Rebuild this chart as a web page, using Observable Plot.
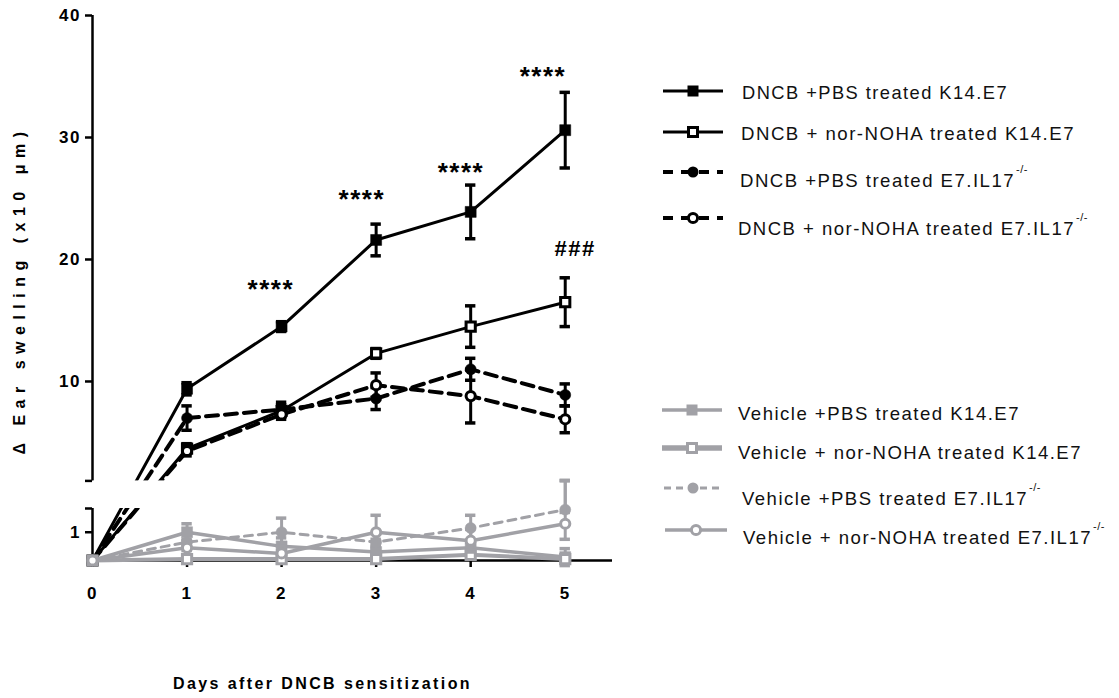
<!DOCTYPE html>
<html>
<head>
<meta charset="utf-8">
<script src="https://cdn.jsdelivr.net/npm/d3@7"></script>
<script src="https://cdn.jsdelivr.net/npm/@observablehq/plot@0.6"></script>
<style>
  body { margin: 0; background: #fff; }
  #wrap { position: relative; width: 1119px; height: 698px; overflow: hidden; background: #fff; }
  #wrap > svg { position: absolute; left: 0; top: 0; }
  #overlay { pointer-events: none; }
</style>
</head>
<body>
<div id="wrap"></div>
<script>
// ---------------- data ----------------
const days = [0, 1, 2, 3, 4, 5];

const seriesMain = [
  "DNCB +PBS treated K14.E7",
  "DNCB + nor-NOHA treated K14.E7",
  "DNCB +PBS treated E7.IL17",
  "DNCB + nor-NOHA treated E7.IL17",
  "Vehicle +PBS treated K14.E7",
  "Vehicle + nor-NOHA treated K14.E7",
  "Vehicle +PBS treated E7.IL17",
  "Vehicle + nor-NOHA treated E7.IL17"
];
const seriesSup = ["", "", "-/-", "-/-", "", "", "-/-", "-/-"];

// mean ear swelling (x10 µm)
const dncbPbsK14      = [0, 9.4, 14.5, 21.6, 23.9, 30.6];
const dncbNohaK14     = [0, 4.5, 7.6, 12.3, 14.5, 16.5];
const dncbPbsIL17     = [0, 7.0, 7.7, 8.6, 11.0, 8.9];
const dncbNohaIL17    = [0, 4.3, 7.3, 9.7, 8.8, 6.9];
const vehPbsK14       = [0, 1.0, 0.5, 0.3, 0.45, 0.12];
const vehNohaK14      = [0, 0.05, 0.05, 0.05, 0.2, 0.05];
const vehPbsIL17      = [0, 0.65, 1.0, 0.65, 1.15, 1.8];
const vehNohaIL17     = [0, 0.45, 0.25, 1.0, 0.7, 1.3];

// SEM
const dncbPbsK14Err   = [0, 0.5, 0.4, 1.3, 2.2, 3.1];
const dncbNohaK14Err  = [0, 0.4, 0.5, 0.4, 1.7, 2.0];
const dncbPbsIL17Err  = [0, 1.0, 0.6, 0.9, 0.9, 0.9];
const dncbNohaIL17Err = [0, 0.4, 0.4, 1.0, 2.2, 1.1];
const vehPbsK14Err    = [0, 0.3, 0.3, 0.2, 0.2, 0.3];
const vehNohaK14Err   = [0, 0.1, 0.1, 0.1, 0.1, 0.1];
const vehPbsIL17Err   = [0, 0.1, 0.5, 0.1, 0.45, 0.1];
const vehNohaIL17Err  = [0, 0.1, 0.1, 0.6, 0.4, 0.55];

// significance annotations
const starLabels = ["****", "****", "****", "****"];
const starX = [1.873, 2.836, 3.884, 4.751];
const starY = [17.5, 24.9, 27.1, 35.0];
const hashLabels = ["###"];
const hashX = [5.10];
const hashY = [20.9];

// axis
const xTicks = [0, 1, 2, 3, 4, 5];
const yTicks = [1, 1.84, 1.85, 10, 20, 30, 40];
const yTickLabels = [1, 10, 20, 30, 40];
const yBreak = [1.84, 1.85];          // broken y axis
const yDomain = [0, 1.84, 1.85, 40];
const xMax = 5.5;

// ---------------- build table ----------------
const means = [dncbPbsK14, dncbNohaK14, dncbPbsIL17, dncbNohaIL17, vehPbsK14, vehNohaK14, vehPbsIL17, vehNohaIL17];
const errs  = [dncbPbsK14Err, dncbNohaK14Err, dncbPbsIL17Err, dncbNohaIL17Err, vehPbsK14Err, vehNohaK14Err, vehPbsIL17Err, vehNohaIL17Err];
const rows = [];
means.forEach((m, si) => days.forEach((d, di) => rows.push({series: si, day: d, value: m[di], err: errs[si][di]})));

// ---------------- styles ----------------
const BLACK = "#000000";
const GRAY = "#a1a1a6";
const styles = [
  {color: BLACK, width: 3,   dash: null,   symbol: "square", open: false, r: 6.2},
  {color: BLACK, width: 3,   dash: null,   symbol: "square", open: true,  r: 5.2},
  {color: BLACK, width: 4,   dash: "12,7", symbol: "circle", open: false, r: 5.5},
  {color: BLACK, width: 4,   dash: "12,7", symbol: "circle", open: true,  r: 4.6},
  {color: GRAY,  width: 3.5, dash: null,   symbol: "square", open: false, r: 6.2},
  {color: GRAY,  width: 4,   dash: null,   symbol: "square", open: true,  r: 5.2},
  {color: GRAY,  width: 3,   dash: "8,6",  symbol: "circle", open: false, r: 5.5},
  {color: GRAY,  width: 3.5, dash: null,   symbol: "circle", open: true,  r: 4.6}
];
const capHalf = 0.055;

function seriesMarks(si) {
  const st = styles[si];
  const data = rows.filter(r => r.series === si);
  const eb = data.filter(r => r.err > 0);
  const lineOpts = {x: "day", y: "value", stroke: st.color, strokeWidth: st.width};
  if (st.dash) lineOpts.strokeDasharray = st.dash;
  return [
    Plot.line(data, lineOpts),
    Plot.ruleX(eb, {x: "day", y1: r => r.value - r.err, y2: r => r.value + r.err, stroke: st.color, strokeWidth: 3}),
    Plot.ruleY(eb, {y: r => r.value + r.err, x1: r => r.day - capHalf, x2: r => r.day + capHalf, stroke: st.color, strokeWidth: 3.5}),
    Plot.ruleY(eb, {y: r => r.value - r.err, x1: r => r.day - capHalf, x2: r => r.day + capHalf, stroke: st.color, strokeWidth: 3.5}),
    Plot.dot(data, {x: "day", y: "value", symbol: st.symbol, r: st.r,
      fill: st.open ? "white" : st.color, stroke: st.color, strokeWidth: st.open ? 3 : 0.5})
  ];
}

const gapRows = [{y1: yBreak[0], y2: yBreak[1]}];
const axisSegments = [{y1: 0, y2: yBreak[0]}, {y1: yBreak[1], y2: yDomain[3]}];
const FONT = '"Liberation Sans", Arial, sans-serif';

const chart = Plot.plot({
  width: 640,
  height: 698,
  marginLeft: 92,
  marginRight: 28,
  marginTop: 15,
  marginBottom: 138,
  x: {domain: [0, xMax]},
  y: {type: "linear", domain: yDomain, range: [560, 508, 480.4, 15]},
  style: {fontFamily: FONT, fontSize: "17px", fontWeight: "bold",
          color: "black", background: "white", overflow: "visible", letterSpacing: "1.5px"},
  marks: [
    Plot.ruleY([0], {stroke: "black", strokeWidth: 2.5}),
    Plot.ruleX(axisSegments, {x: 0, y1: "y1", y2: "y2", stroke: "black", strokeWidth: 2.5}),
    Plot.axisX({ticks: xTicks, tickSize: 7, tickPadding: 19, strokeWidth: 2.5, label: null, tickFormat: d => String(d)}),
    Plot.axisY({ticks: yTicks, tickSize: 7, tickPadding: 4.5, strokeWidth: 2.5, label: null,
      tickFormat: d => yTickLabels.includes(d) ? String(d) : ""}),
    ...seriesMarks(0), ...seriesMarks(1), ...seriesMarks(2), ...seriesMarks(3),
    Plot.rect(gapRows, {x1: 0, x2: xMax, y1: "y1", y2: "y2", fill: "white", insetLeft: 1.5}),
    ...seriesMarks(4), ...seriesMarks(5), ...seriesMarks(6), ...seriesMarks(7),
    Plot.text(starLabels.map((t, i) => ({t, x: starX[i], y: starY[i]})), {
      x: "x", y: "y", text: "t", fontSize: 26, fontWeight: "bold", dx: 1.2,
      fontFamily: FONT, fill: "black", ariaLabel: "stars"}),
    Plot.text(hashLabels.map((t, i) => ({t, x: hashX[i], y: hashY[i]})), {
      x: "x", y: "y", text: "t", fontSize: 22, fontWeight: "bold", dx: 0.5,
      fontFamily: FONT, fill: "black", ariaLabel: "hash"})
  ]
});
document.getElementById("wrap").appendChild(chart);
d3.select(chart).selectAll('g[aria-label="stars"] text').style("letter-spacing", "2.4px");
d3.select(chart).selectAll('g[aria-label="hash"] text').style("letter-spacing", "1px")
  .attr("textLength", 38).attr("lengthAdjust", "spacingAndGlyphs");

// ---------------- overlay: titles + legend ----------------
const ov = d3.select("#wrap").append("svg")
  .attr("id", "overlay").attr("width", 1119).attr("height", 698);

ov.append("text")
  .attr("transform", "translate(21,290) rotate(-90)")
  .attr("text-anchor", "middle").attr("dominant-baseline", "middle")
  .style("font-family", FONT)
  .style("font-weight", "bold").style("font-size", "16px").style("letter-spacing", "6.5px")
  .text("\u0394 Ear swelling (x10 \u03bcm)");

ov.append("text")
  .attr("x", 173).attr("y", 689)
  .style("font-family", FONT)
  .style("font-weight", "bold").style("font-size", "16px").style("letter-spacing", "2.4px")
  .text("Days after DNCB sensitization");

const swY   = [91, 132, 172, 218, 410, 448, 488, 530];
const txY   = [92, 133, 180, 228, 413, 452, 498, 537];
const txX   = [742, 741, 740, 738, 738, 738, 742, 743];
const txW   = [266, 334, 275, 337, 282, 344, 286, 349];
const swX1  = [663, 663, 663, 663, 662, 662, 664, 665];
const swX2  = [723, 723, 723, 723, 722, 722, 722, 727];

seriesMain.forEach((name, i) => {
  const st = styles[i];
  const g = ov.append("g");
  const mx = (swX1[i] + swX2[i]) / 2;
  const ln = g.append("line").attr("x1", swX1[i]).attr("x2", swX2[i]).attr("y1", swY[i]).attr("y2", swY[i])
    .attr("stroke", st.color).attr("stroke-width", st.width + (i === 5 ? 1.5 : 0));
  if (st.dash) ln.attr("stroke-dasharray", i < 4 ? "10,8" : "7,5");
  if (st.symbol === "square") {
    const s = st.open ? 9 : 11;
    g.append("rect").attr("x", mx - s / 2).attr("y", swY[i] - s / 2).attr("width", s).attr("height", s)
      .attr("fill", st.open ? "white" : st.color).attr("stroke", st.color).attr("stroke-width", st.open ? 3 : 0);
  } else {
    g.append("circle").attr("cx", mx).attr("cy", swY[i]).attr("r", st.open ? 4.6 : 5.5)
      .attr("fill", st.open ? "white" : st.color).attr("stroke", st.color).attr("stroke-width", st.open ? 3 : 0);
  }
  const t = g.append("text").attr("x", txX[i]).attr("y", txY[i]).attr("dominant-baseline", "central")
    .style("font-family", FONT).style("font-size", "19px").style("letter-spacing", "1.5px").attr("fill", "#111");
  t.append("tspan").attr("textLength", txW[i]).attr("lengthAdjust", "spacingAndGlyphs").text(name);
  if (seriesSup[i]) {
    t.append("tspan").attr("dx", 1).attr("dy", -11).style("font-size", "11px").style("letter-spacing", "0.5px")
      .text(seriesSup[i]);
  }
});
</script>
</body>
</html>
